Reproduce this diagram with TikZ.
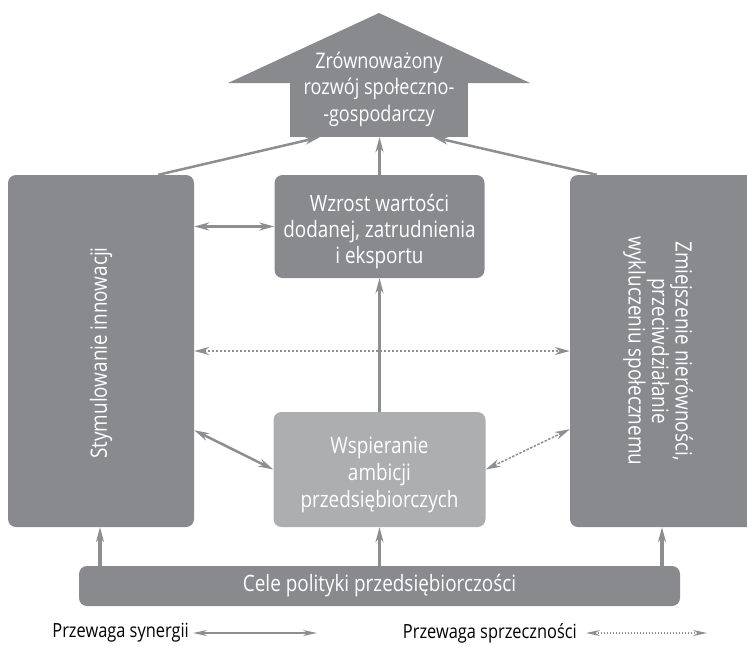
\documentclass[tikz,border=0pt]{standalone}
\usepackage{fontspec}
\setmainfont[FakeStretch=0.84]{Open Sans}
\usetikzlibrary{arrows.meta,calc}
\definecolor{boxgray}{RGB}{137,138,142}
\definecolor{softgray}{RGB}{173,174,176}
\definecolor{linkgray}{RGB}{141,142,146}
\begin{document}
\begin{tikzpicture}[x=1pt,y=-1pt,
  >={Stealth[length=15pt,width=8pt]},
  boxfont/.style={font=\fontsize{22.5}{27}\selectfont},
  box/.style={fill=boxgray, rounded corners=8pt, inner sep=0pt, text=white,
    align=center, boxfont},
  label/.style={text=white, align=center, inner sep=0pt, boxfont},
  syn/.style={draw=linkgray, line width=2.5pt, <->},
  conflict/.style={draw=linkgray, line width=1.5pt, dash pattern=on 2.5pt off 1.5pt, <->},
  rise/.style={draw=linkgray, line width=3.5pt, ->},
  feed/.style={draw=linkgray, line width=2.5pt, ->},
  legendtext/.style={anchor=east, inner sep=0pt, font=\fontsize{19.5}{22}\selectfont},
  legendtip/.style={{Stealth[length=14pt,width=6pt]}-{Stealth[length=14pt,width=6pt]}}
]
\useasboundingbox (0,0) rectangle (747,646);

% goal arrow: body and head
\node[fill=boxgray, minimum width=178pt, minimum height=54pt, inner sep=0pt] (goalbody) at (379,110) {};
\fill[boxgray] (228,83) -- (379,13) -- (530,83) -- cycle;
\node[label, font=\fontsize{21.5}{26.5}\selectfont] (goal) at (379,89) {Zrównoważony\\rozwój społeczno-\\-gospodarczy};

% policy areas
\node[box, minimum width=186pt, minimum height=352pt] (lbox) at (101,351) {};
\node[label, rotate=90] (llabel) at (101,353) {Stymulowanie innowacji};
\node[box, minimum width=186pt, minimum height=352pt] (rbox) at (663,351) {};
\node[label, rotate=-90, font=\fontsize{22.5}{23.5}\selectfont] (rlabel) at (658,351)
  {Zmiejszenie nierówności,\\przeciwdziałanie\\wykluczeniu społecznemu};
\node[box, minimum width=210pt, minimum height=103pt] (mtop) at (379.5,226.5) {};
\node[label, font=\fontsize{22.5}{26}\selectfont] (mtoplabel) at (379.5,232)
  {Wzrost wartości\\dodanej, zatrudnienia\\i eksportu};
\node[box, fill=softgray, minimum width=212pt, minimum height=115pt] (mlow) at (379.5,469.5) {};
\node[label] (mlowlabel) at (379.5,475) {Wspieranie\\ambicji\\przedsiębiorczych};
\node[box, minimum width=601pt, minimum height=40pt] (bar) at (379.5,586)
  {Cele polityki przedsiębiorczości};

% links between areas
\draw[syn] (mtop.west -| lbox.east) -- (mtop.west);
\draw[syn] ($(lbox.south east)+(0,-97)$) -- (mlow.west);
\draw[conflict] (lbox.east) -- (rbox.west);
\draw[conflict] (mlow.east) -- ($(rbox.south west)+(0,-98)$);
\draw[rise] (mlow.north) -- (mlow.north |- mtop.south);
\draw[rise] (mtop.north) -- (mtop.north |- goalbody.south);
\draw[feed] ($(lbox.north east)+(-36,0)$) -- ($(goalbody.south west)+(30,0)$);
\draw[feed] ($(rbox.north west)+(27,0)$) -- ($(goalbody.south east)+(-35,0)$);

% policy objectives feeding the areas
\coordinate (lfoot) at ($(lbox.south)+(-1,0)$);
\coordinate (rfoot) at ($(rbox.south)+(-1,0)$);
\draw[rise] (lfoot |- bar.north) -- (lfoot);
\draw[rise] (bar.north) -- (mlow.south);
\draw[rise] (rfoot |- bar.north) -- (rfoot);

% legend
\node[legendtext] (lsyn) at (189,633) {Przewaga synergii};
\coordinate (s1) at (193,633);
\coordinate (s2) at (317,633);
\draw[draw=linkgray, line width=2pt, legendtip] (s1) -- (s2);
\node[legendtext] (lcon) at (577,633) {Przewaga sprzeczności};
\coordinate (c1) at (586,633);
\coordinate (c2) at (707,633);
\draw[draw=linkgray, line width=1.3pt, dash pattern=on 1.8pt off 1.2pt, legendtip] (c1) -- (c2);
\end{tikzpicture}
\end{document}
